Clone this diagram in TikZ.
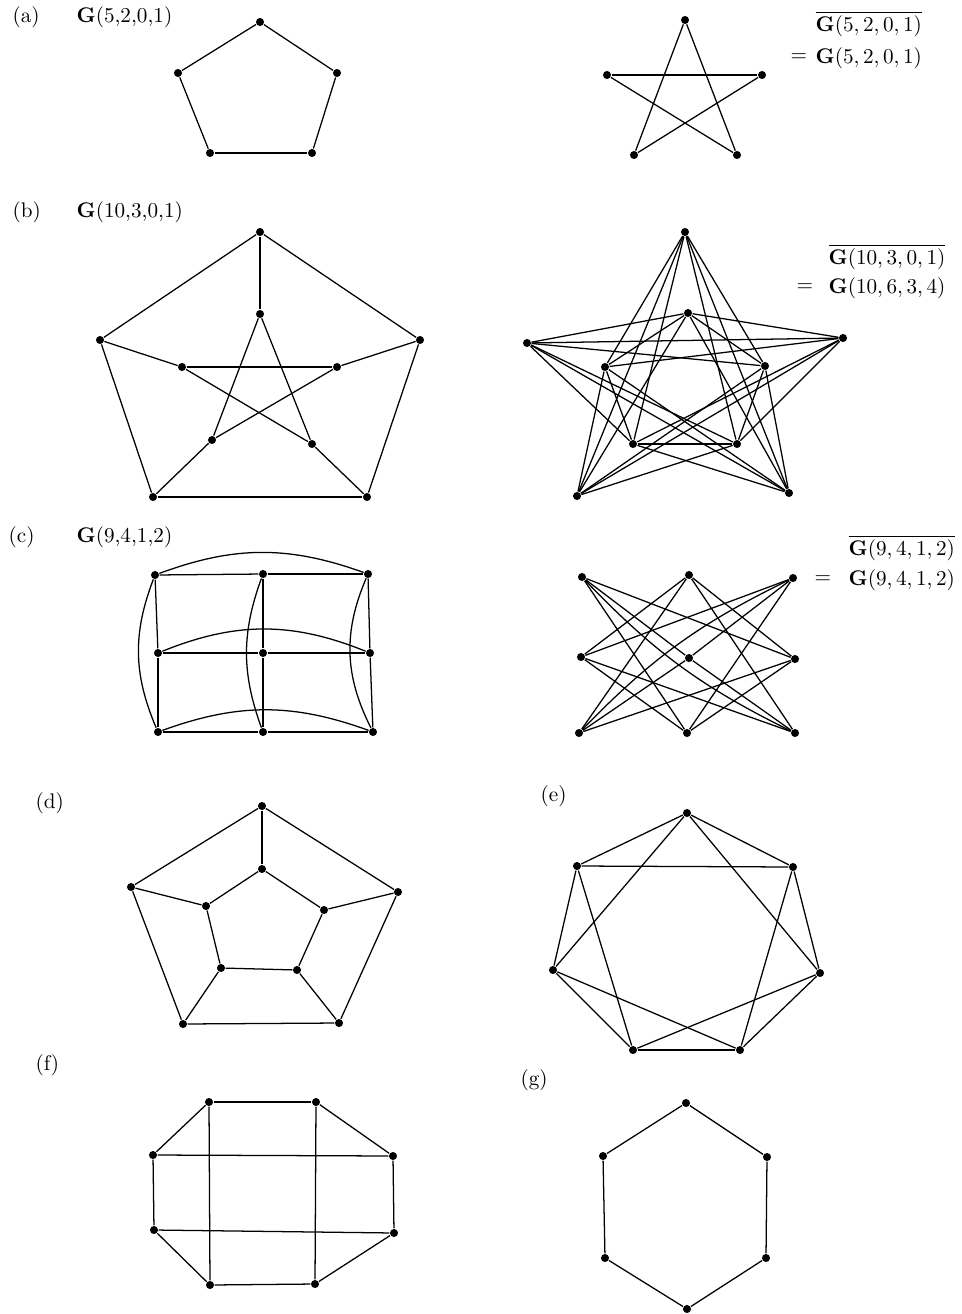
\documentclass[tikz,border=0pt]{standalone}
\begin{document}
\begin{tikzpicture}[x=0.0166cm,y=-0.0166cm,line width=0.6pt,
  vtx/.style={circle,fill,inner sep=0pt,minimum size=3.8pt},
  lbl/.style={anchor=west,inner sep=0pt}]
  \useasboundingbox (0,0) rectangle (962,1314);
  % (a) pentagon and pentagram
  \node[lbl] (tagA) at (12,17) {(a)};
  \node[lbl] (nameA) at (76,17) {\textbf{G}(5,2,0,1)};
  \node[lbl] (barA) at (815,24) {$\overline{\mathbf{G}(5,2,0,1)}$};
  \node[lbl] (eqA) at (790,58) {$=$};
  \node[lbl] (compA) at (815,58) {$\mathbf{G}(5,2,0,1)$};
  \foreach \n/\x/\y in {pa1/260/22,pa2/337/73,pa3/312/153,pa4/210/153,pa5/178/73,
                        sa1/685/20,sa2/762/75,sa3/737/155,sa4/634/155,sa5/607/75}
     \node[vtx] (\n) at (\x,\y) {};
  \foreach \u/\v in {pa1/pa2,pa2/pa3,pa3/pa4,pa4/pa5,pa5/pa1,
                     sa1/sa3,sa3/sa5,sa5/sa2,sa2/sa4,sa4/sa1}
     \draw (\u)--(\v);
  % (b) Petersen graph and its complement
  \node[lbl] (tagB) at (12,212) {(b)};
  \node[lbl] (nameB) at (76,212) {\textbf{G}(10,3,0,1)};
  \node[lbl] (barB) at (828,257) {$\overline{\mathbf{G}(10,3,0,1)}$};
  \node[lbl] (eqB) at (796,288) {$=$};
  \node[lbl] (compB) at (828,288) {$\mathbf{G}(10,6,3,4)$};
  \foreach \n/\x/\y in {po1/260/232,po2/420/340,po3/367/497,po4/153/497,po5/100/340,
                        pi1/260/314,pi2/337/367,pi3/312/444,pi4/212/440,pi5/182/367,
                        qo1/685/232,qo2/843/338,qo3/789/493,qo4/577/496,qo5/527/343,
                        qi1/688/313,qi2/765/366,qi3/737/444,qi4/633/444,qi5/605/367}
     \node[vtx] (\n) at (\x,\y) {};
  \foreach \u/\v in {po1/po2,po2/po3,po3/po4,po4/po5,po5/po1,
                     po1/pi1,po2/pi2,po3/pi3,po4/pi4,po5/pi5,
                     pi1/pi3,pi3/pi5,pi5/pi2,pi2/pi4,pi4/pi1}
     \draw (\u)--(\v);
  \foreach \u/\v in {qo1/qo3,qo3/qo5,qo5/qo2,qo2/qo4,qo4/qo1,
                     qi1/qi2,qi2/qi3,qi3/qi4,qi4/qi5,qi5/qi1}
     \draw (\u)--(\v);
  \foreach \i in {1,...,5}\foreach \j in {1,...,5}
     {\ifnum\i=\j\else\draw (qo\i)--(qi\j);\fi}
  % (c) 3x3 rook graph and its complement
  \node[lbl] (tagC) at (8,537) {(c)};
  \node[lbl] (nameC) at (76,537) {\textbf{G}(9,4,1,2)};
  \node[lbl] (barC) at (848,548) {$\overline{\mathbf{G}(9,4,1,2)}$};
  \node[lbl] (eqC) at (814,580) {$=$};
  \node[lbl] (compC) at (848,580) {$\mathbf{G}(9,4,1,2)$};
  \foreach \n/\x/\y in {r11/155/575,r12/263/574,r13/368/574,
                        r21/158/653,r22/263/653,r23/370/653,
                        r31/158/732,r32/263/732,r33/373/732,
                        t11/582/577,t12/689/575,t13/793/578,
                        t21/581/657,t22/689/658,t23/795/659,
                        t31/579/733,t32/687/733,t33/795/733}
     \node[vtx] (\n) at (\x,\y) {};
  \foreach \u/\v in {r11/r12,r12/r13,r21/r22,r22/r23,r31/r32,r32/r33,
                     r11/r21,r21/r31,r12/r22,r22/r32,r13/r23,r23/r33}
     \draw (\u)--(\v);
  \draw (r11) to[bend left=20] (r13);
  \draw (r21) to[bend left=22] (r23);
  \draw (r31) to[bend left=20] (r33);
  \draw (r11) to[bend right=22] (r31);
  \draw (r12) to[bend right=20] (r32);
  \draw (r13) to[bend right=25] (r33);
  \foreach \u/\v in {t11/t22,t11/t23,t11/t32,t12/t21,t12/t23,t12/t31,t12/t33,
                     t13/t21,t13/t22,t13/t32,t21/t32,t21/t33,t22/t31,t22/t33,
                     t23/t31,t23/t32}
     \draw (\u)--(\v);
  \draw (t11) to[bend right=10] (t33);
  \draw (t31) to[bend left=10] (t13);
  % (d) pentagonal prism
  \node[lbl] (tagD) at (35,803) {(d)};
  \foreach \n/\x/\y in {do1/262/806,do2/398/892,do3/339/1023,do4/183/1024,do5/131/887,
                        di1/262/869,di2/324/910,di3/297/970,di4/221/968,di5/206/906}
     \node[vtx] (\n) at (\x,\y) {};
  \foreach \u/\v in {do1/do2,do2/do3,do3/do4,do4/do5,do5/do1,
                     di1/di2,di2/di3,di3/di4,di4/di5,di5/di1,
                     do1/di1,do2/di2,do3/di3,do4/di4,do5/di5}
     \draw (\u)--(\v);
  % (e) 7-cycle with chords of length 2
  \node[lbl] (tagE) at (540,796) {(e)};
  \foreach \n/\x/\y in {e1/687/813,e2/793/867,e3/820/973,e4/740/1050,
                        e5/633/1050,e6/553/970,e7/577/866}
     \node[vtx] (\n) at (\x,\y) {};
  \foreach \u/\v in {e1/e2,e2/e3,e3/e4,e4/e5,e5/e6,e6/e7,e7/e1,
                     e1/e3,e2/e4,e3/e5,e4/e6,e5/e7,e6/e1,e7/e2}
     \draw (\u)--(\v);
  % (f) octagon with two pairs of chords
  \node[lbl] (tagF) at (35,1065) {(f)};
  \foreach \n/\x/\y in {f1/209/1102,f2/316/1102,f3/393/1156,f4/394/1233,
                        f5/315/1284,f6/210/1285,f7/154/1230,f8/153/1155}
     \node[vtx] (\n) at (\x,\y) {};
  \foreach \u/\v in {f1/f2,f2/f3,f3/f4,f4/f5,f5/f6,f6/f7,f7/f8,f8/f1,
                     f1/f6,f2/f5,f8/f3,f7/f4}
     \draw (\u)--(\v);
  % (g) hexagon
  \node[lbl] (tagG) at (520,1080) {(g)};
  \foreach \n/\x/\y in {g1/686/1103,g2/767/1157,g3/766/1258,
                        g4/687/1309,g5/605/1258,g6/603/1156}
     \node[vtx] (\n) at (\x,\y) {};
  \foreach \u/\v in {g1/g2,g2/g3,g3/g4,g4/g5,g5/g6,g6/g1}
     \draw (\u)--(\v);
\end{tikzpicture}
\end{document}
